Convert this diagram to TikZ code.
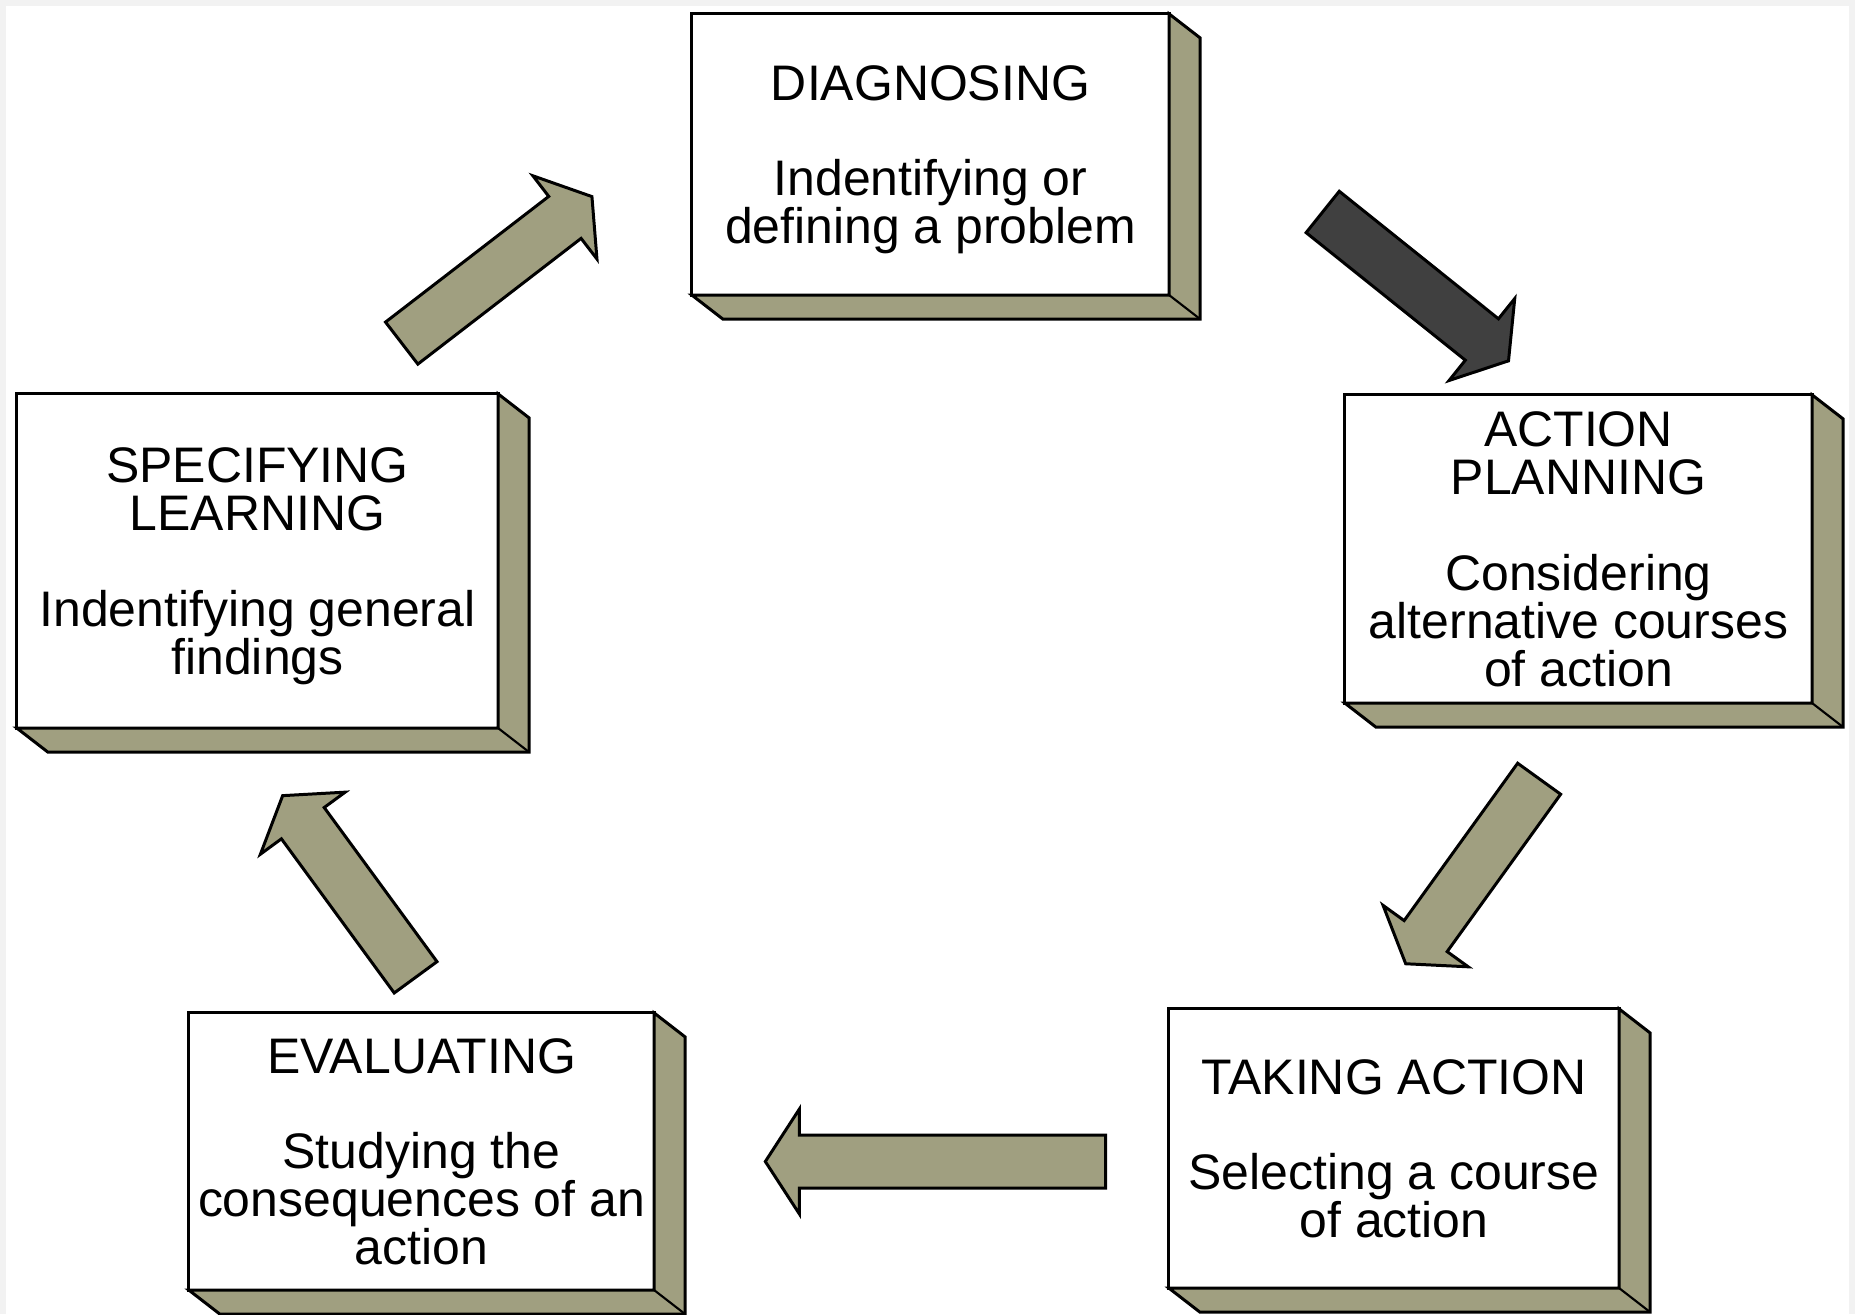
\documentclass[tikz,border=0pt]{standalone}
\usepackage{fontspec}
\setmainfont{Liberation Sans}
\usetikzlibrary{shapes.arrows}
\definecolor{khaki}{RGB}{160,159,128}
\definecolor{darkarrow}{RGB}{64,64,64}

\begin{document}
\begin{tikzpicture}
  [x=0.01cm,y=-0.01cm,line width=0.85pt,
   phase/.style={draw,fill=white,inner sep=0pt,outer sep=0pt,align=center,
     text depth=0pt,font=\fontsize{14.2}{13.6}\selectfont},
   depthface/.style={draw,fill=khaki},
   blockarrow/.style={single arrow,draw,fill=khaki,inner xsep=0pt,
     inner ysep=0.25cm,single arrow head extend=0.26cm,
     single arrow tip angle=114,anchor=tail}]
  \useasboundingbox (0,0) rectangle (1855,1314);
  \fill[black!5] (0,0) rectangle (1855,1314);
  \fill[white] (6,6) rectangle (1849,1314);
  \node[phase,minimum width=4.77cm,minimum height=2.81cm] (dg) at (930.5,154.5)
    {DIAGNOSING\\[13.6pt]Indentifying or\\defining a problem};
  \node[phase,minimum width=4.67cm,minimum height=3.08cm] (ap) at (1578.5,549)
    {ACTION\\PLANNING\\[13.6pt]Considering\\alternative courses\\of action};
  \node[phase,minimum width=4.50cm,minimum height=2.79cm] (ta) at (1394,1148.5)
    {TAKING ACTION\\[13.6pt]Selecting a course\\of action};
  \node[phase,minimum width=4.65cm,minimum height=2.77cm] (ev) at (421.5,1151.5)
    {EVALUATING\\[13.6pt]Studying the\\consequences of an\\action};
  \node[phase,minimum width=4.81cm,minimum height=3.34cm] (sl) at (257.5,561)
    {SPECIFYING\\LEARNING\\[13.6pt]Indentifying general\\findings};
  \foreach \b in {dg,ap,ta,ev,sl}{
    \draw[depthface] (\b.north east) -- ([shift={(31,24)}]\b.north east)
      -- ([shift={(31,24)}]\b.south east) -- ([shift={(31,24)}]\b.south west)
      -- (\b.south west) -- (\b.south east) -- cycle;
    \draw[line width=0.6pt] (\b.south east) -- ([shift={(31,24)}]\b.south east);
  }
  \node[blockarrow,minimum height=2.40cm,rotate=37.6] (a1) at (400.5,344) {};
  \node[blockarrow,fill=darkarrow,minimum height=2.38cm,rotate=-38.7] (a2) at (1321.5,211) {};
  \node[blockarrow,minimum height=2.28cm,rotate=-125.8] (a3) at (1540,777.5) {};
  \node[blockarrow,minimum height=3.40cm,rotate=180] (a4) at (1107,1161.5) {};
  \node[blockarrow,minimum height=2.25cm,rotate=126.2] (a5) at (416.5,978.5) {};
\end{tikzpicture}
\end{document}
